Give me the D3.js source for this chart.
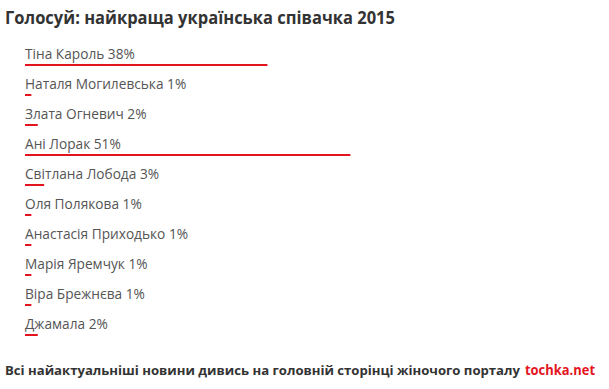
<!DOCTYPE html>
<html>
<head>
<meta charset="utf-8">
<script src="https://cdn.jsdelivr.net/npm/d3@7"></script>
<style>
  body { margin: 0; background: #fff; }
  text { font-family: "Open Sans", sans-serif; }
</style>
</head>
<body>
<div id="chart"></div>
<script>
const names = [
  "Тіна Кароль",
  "Наталя Могилевська",
  "Злата Огневич",
  "Ані Лорак",
  "Світлана Лобода",
  "Оля Полякова",
  "Анастасія Приходько",
  "Марія Яремчук",
  "Віра Брежнєва",
  "Джамала",
];
const percents = [38, 1, 2, 51, 3, 1, 1, 1, 1, 2];

const title = "Голосуй: найкраща українська співачка 2015";
const footer = "Всі найактуальніші новини дивись на головній сторінці жіночого порталу";
const footerLink = "tochka.net";

const width = 609,
  height = 389;

const svg = d3
  .select("#chart")
  .append("svg")
  .attr("width", width)
  .attr("height", height);

// title
svg
  .append("text")
  .attr("x", 5)
  .attr("y", 24)
  .attr("fill", "#333")
  .attr("font-weight", "bold")
  .attr("font-size", 17.5)
  .attr("textLength", 390)
  .attr("lengthAdjust", "spacingAndGlyphs")
  .text(title);

const x = d3.scaleLinear().domain([0, 100]).range([0, 638]);
const y = d3
  .scalePoint()
  .domain(names)
  .range([64, 334]);

const rows = svg
  .selectAll(".row")
  .data(names)
  .enter()
  .append("g")
  .attr("class", "row")
  .attr("transform", (d) => `translate(25,${y(d)})`);

rows
  .append("text")
  .attr("x", 0)
  .attr("y", -5)
  .attr("fill", "#555")
  .attr("font-size", 13.7)
  .text((d, i) => `${d} ${percents[i]}%`);

rows
  .append("rect")
  .attr("x", 0)
  .attr("y", 0)
  .attr("height", 2)
  .attr("width", (d, i) => x(percents[i]))
  .attr("fill", "#e3141e");

// footer
svg
  .append("text")
  .attr("x", 5)
  .attr("y", 375)
  .attr("font-weight", "bold")
  .attr("font-size", 13)
  .attr("textLength", 515)
  .attr("lengthAdjust", "spacingAndGlyphs")
  .attr("fill", "#333")
  .text(footer);

svg
  .append("text")
  .attr("x", 525)
  .attr("y", 375)
  .attr("font-weight", "bold")
  .attr("font-size", 14)
  .attr("textLength", 70)
  .attr("lengthAdjust", "spacingAndGlyphs")
  .attr("fill", "#e3141e")
  .text(footerLink);
</script>
</body>
</html>
